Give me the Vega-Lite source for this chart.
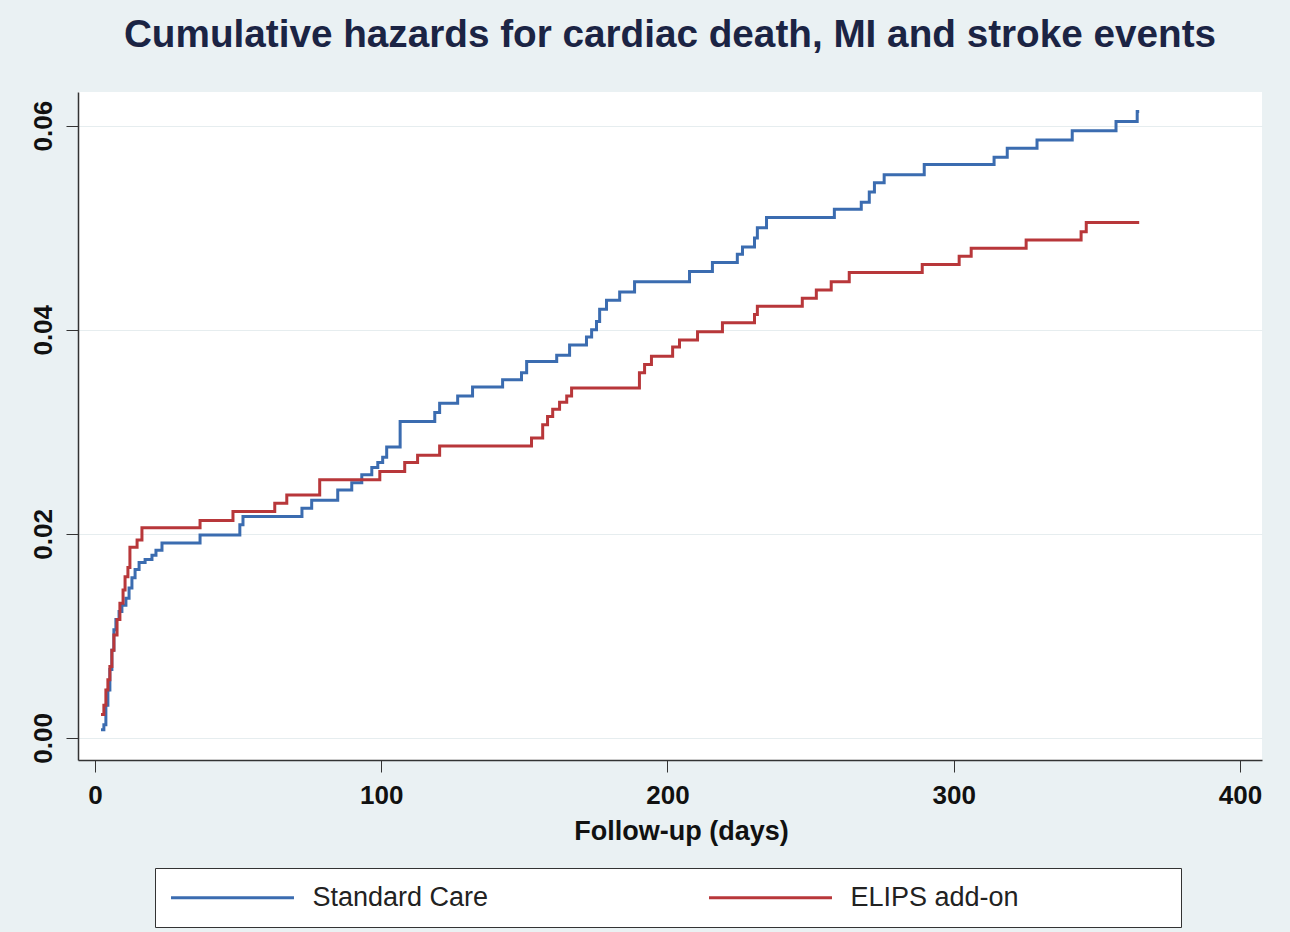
{
  "$schema": "https://vega.github.io/schema/vega-lite/v6.json",
  "autosize": {"type": "none"},
  "width": 1184,
  "height": 668,
  "padding": {"left": 78, "top": 92, "right": 28, "bottom": 172},
  "background": "#EAF1F3",
  "view": {"fill": "white", "stroke": null},
  "title": {
    "text": "Cumulative hazards for cardiac death, MI and stroke events",
    "anchor": "middle",
    "frame": "group",
    "font": "Liberation Sans",
    "fontSize": 38.7,
    "fontWeight": "bold",
    "color": "#1B2444",
    "baseline": "alphabetic",
    "offset": 6
  },
  "data": {
    "values": [
      {"group": "Standard Care", "day": 2.1, "h": 0.0008},
      {"group": "Standard Care", "day": 3.1, "h": 0.0013},
      {"group": "Standard Care", "day": 3.8, "h": 0.0032},
      {"group": "Standard Care", "day": 4.5, "h": 0.0047},
      {"group": "Standard Care", "day": 5.2, "h": 0.0067},
      {"group": "Standard Care", "day": 5.9, "h": 0.0086},
      {"group": "Standard Care", "day": 6.6, "h": 0.0106},
      {"group": "Standard Care", "day": 7.3, "h": 0.0116},
      {"group": "Standard Care", "day": 8.4, "h": 0.0124},
      {"group": "Standard Care", "day": 9.4, "h": 0.0130},
      {"group": "Standard Care", "day": 10.8, "h": 0.0137},
      {"group": "Standard Care", "day": 11.9, "h": 0.0147},
      {"group": "Standard Care", "day": 12.9, "h": 0.0157},
      {"group": "Standard Care", "day": 14.0, "h": 0.0165},
      {"group": "Standard Care", "day": 15.4, "h": 0.0172},
      {"group": "Standard Care", "day": 17.5, "h": 0.0175},
      {"group": "Standard Care", "day": 19.9, "h": 0.0179},
      {"group": "Standard Care", "day": 21.3, "h": 0.0184},
      {"group": "Standard Care", "day": 23.4, "h": 0.0191},
      {"group": "Standard Care", "day": 36.7, "h": 0.0199},
      {"group": "Standard Care", "day": 50.6, "h": 0.0209},
      {"group": "Standard Care", "day": 51.7, "h": 0.0217},
      {"group": "Standard Care", "day": 72.3, "h": 0.0225},
      {"group": "Standard Care", "day": 75.7, "h": 0.0233},
      {"group": "Standard Care", "day": 84.8, "h": 0.0243},
      {"group": "Standard Care", "day": 89.7, "h": 0.0250},
      {"group": "Standard Care", "day": 93.2, "h": 0.0258},
      {"group": "Standard Care", "day": 96.7, "h": 0.0265},
      {"group": "Standard Care", "day": 98.8, "h": 0.0270},
      {"group": "Standard Care", "day": 100.5, "h": 0.0275},
      {"group": "Standard Care", "day": 101.9, "h": 0.0285},
      {"group": "Standard Care", "day": 106.6, "h": 0.0310},
      {"group": "Standard Care", "day": 118.7, "h": 0.0319},
      {"group": "Standard Care", "day": 120.4, "h": 0.0328},
      {"group": "Standard Care", "day": 126.7, "h": 0.0335},
      {"group": "Standard Care", "day": 131.9, "h": 0.0344},
      {"group": "Standard Care", "day": 142.4, "h": 0.0351},
      {"group": "Standard Care", "day": 149.0, "h": 0.0358},
      {"group": "Standard Care", "day": 150.8, "h": 0.0369},
      {"group": "Standard Care", "day": 161.3, "h": 0.0375},
      {"group": "Standard Care", "day": 165.8, "h": 0.0385},
      {"group": "Standard Care", "day": 171.7, "h": 0.0393},
      {"group": "Standard Care", "day": 173.5, "h": 0.0400},
      {"group": "Standard Care", "day": 175.2, "h": 0.0408},
      {"group": "Standard Care", "day": 176.3, "h": 0.0420},
      {"group": "Standard Care", "day": 178.7, "h": 0.0429},
      {"group": "Standard Care", "day": 183.3, "h": 0.0437},
      {"group": "Standard Care", "day": 188.5, "h": 0.0447},
      {"group": "Standard Care", "day": 207.7, "h": 0.0457},
      {"group": "Standard Care", "day": 215.7, "h": 0.0466},
      {"group": "Standard Care", "day": 224.4, "h": 0.0474},
      {"group": "Standard Care", "day": 226.2, "h": 0.0481},
      {"group": "Standard Care", "day": 230.4, "h": 0.0490},
      {"group": "Standard Care", "day": 231.4, "h": 0.0500},
      {"group": "Standard Care", "day": 234.6, "h": 0.0510},
      {"group": "Standard Care", "day": 258.3, "h": 0.0518},
      {"group": "Standard Care", "day": 267.7, "h": 0.0525},
      {"group": "Standard Care", "day": 270.5, "h": 0.0535},
      {"group": "Standard Care", "day": 272.3, "h": 0.0544},
      {"group": "Standard Care", "day": 275.7, "h": 0.0552},
      {"group": "Standard Care", "day": 289.7, "h": 0.0562},
      {"group": "Standard Care", "day": 314.1, "h": 0.0569},
      {"group": "Standard Care", "day": 318.7, "h": 0.0578},
      {"group": "Standard Care", "day": 329.1, "h": 0.0586},
      {"group": "Standard Care", "day": 341.4, "h": 0.0595},
      {"group": "Standard Care", "day": 356.7, "h": 0.0604},
      {"group": "Standard Care", "day": 364.1, "h": 0.0614},
      {"group": "Standard Care", "day": 364.8, "h": 0.0614},
      {"group": "ELIPS add-on", "day": 2.1, "h": 0.0023},
      {"group": "ELIPS add-on", "day": 3.1, "h": 0.0032},
      {"group": "ELIPS add-on", "day": 3.8, "h": 0.0047},
      {"group": "ELIPS add-on", "day": 4.5, "h": 0.0057},
      {"group": "ELIPS add-on", "day": 5.2, "h": 0.0070},
      {"group": "ELIPS add-on", "day": 5.9, "h": 0.0086},
      {"group": "ELIPS add-on", "day": 6.6, "h": 0.0101},
      {"group": "ELIPS add-on", "day": 7.7, "h": 0.0116},
      {"group": "ELIPS add-on", "day": 8.7, "h": 0.0132},
      {"group": "ELIPS add-on", "day": 9.8, "h": 0.0145},
      {"group": "ELIPS add-on", "day": 10.5, "h": 0.0158},
      {"group": "ELIPS add-on", "day": 11.5, "h": 0.0167},
      {"group": "ELIPS add-on", "day": 12.2, "h": 0.0187},
      {"group": "ELIPS add-on", "day": 14.7, "h": 0.0194},
      {"group": "ELIPS add-on", "day": 16.4, "h": 0.0206},
      {"group": "ELIPS add-on", "day": 36.7, "h": 0.0213},
      {"group": "ELIPS add-on", "day": 48.2, "h": 0.0222},
      {"group": "ELIPS add-on", "day": 62.8, "h": 0.0230},
      {"group": "ELIPS add-on", "day": 67.0, "h": 0.0238},
      {"group": "ELIPS add-on", "day": 78.5, "h": 0.0253},
      {"group": "ELIPS add-on", "day": 99.5, "h": 0.0261},
      {"group": "ELIPS add-on", "day": 108.2, "h": 0.0270},
      {"group": "ELIPS add-on", "day": 112.7, "h": 0.0277},
      {"group": "ELIPS add-on", "day": 120.4, "h": 0.0286},
      {"group": "ELIPS add-on", "day": 152.5, "h": 0.0294},
      {"group": "ELIPS add-on", "day": 156.4, "h": 0.0307},
      {"group": "ELIPS add-on", "day": 158.1, "h": 0.0315},
      {"group": "ELIPS add-on", "day": 159.9, "h": 0.0322},
      {"group": "ELIPS add-on", "day": 162.3, "h": 0.0329},
      {"group": "ELIPS add-on", "day": 164.8, "h": 0.0335},
      {"group": "ELIPS add-on", "day": 166.5, "h": 0.0343},
      {"group": "ELIPS add-on", "day": 190.2, "h": 0.0358},
      {"group": "ELIPS add-on", "day": 192.0, "h": 0.0366},
      {"group": "ELIPS add-on", "day": 194.4, "h": 0.0374},
      {"group": "ELIPS add-on", "day": 201.8, "h": 0.0383},
      {"group": "ELIPS add-on", "day": 204.2, "h": 0.0390},
      {"group": "ELIPS add-on", "day": 210.5, "h": 0.0398},
      {"group": "ELIPS add-on", "day": 219.2, "h": 0.0407},
      {"group": "ELIPS add-on", "day": 230.4, "h": 0.0415},
      {"group": "ELIPS add-on", "day": 231.4, "h": 0.0423},
      {"group": "ELIPS add-on", "day": 247.1, "h": 0.0431},
      {"group": "ELIPS add-on", "day": 252.0, "h": 0.0439},
      {"group": "ELIPS add-on", "day": 257.2, "h": 0.0447},
      {"group": "ELIPS add-on", "day": 263.5, "h": 0.0456},
      {"group": "ELIPS add-on", "day": 289.0, "h": 0.0464},
      {"group": "ELIPS add-on", "day": 301.9, "h": 0.0472},
      {"group": "ELIPS add-on", "day": 306.1, "h": 0.0480},
      {"group": "ELIPS add-on", "day": 325.3, "h": 0.0488},
      {"group": "ELIPS add-on", "day": 344.5, "h": 0.0496},
      {"group": "ELIPS add-on", "day": 346.3, "h": 0.0505},
      {"group": "ELIPS add-on", "day": 364.8, "h": 0.0505}
    ]
  },
  "mark": {"type": "line", "interpolate": "step-after", "strokeWidth": 3},
  "encoding": {
    "x": {
      "field": "day",
      "type": "quantitative",
      "scale": {"domain": [-5.94, 407.7], "nice": false, "zero": false},
      "axis": {
        "title": "Follow-up (days)",
        "values": [0, 100, 200, 300, 400],
        "grid": false,
        "domainColor": "#333333",
        "domainWidth": 1.5,
        "tickColor": "#333333",
        "tickWidth": 1,
        "tickSize": 12,
        "labelFont": "Liberation Sans",
        "labelFontSize": 26,
        "labelFontWeight": "bold",
        "labelColor": "#111111",
        "labelPadding": 10,
        "labelFlush": false,
        "titleFont": "Liberation Sans",
        "titleFontSize": 27,
        "titleFontWeight": "bold",
        "titleColor": "#111111",
        "titlePadding": 10,
        "titleX": 603
      }
    },
    "y": {
      "field": "h",
      "type": "quantitative",
      "scale": {"domain": [-0.00216, 0.0633], "nice": false, "zero": false},
      "axis": {
        "title": null,
        "values": [0, 0.02, 0.04, 0.06],
        "format": ".2f",
        "grid": true,
        "gridColor": "#E6EDEF",
        "gridWidth": 1,
        "domainColor": "#333333",
        "domainWidth": 1.5,
        "tickColor": "#333333",
        "tickWidth": 1,
        "tickSize": 12,
        "labelAngle": -90,
        "labelAlign": "center",
        "labelBaseline": "bottom",
        "labelFont": "Liberation Sans",
        "labelFontSize": 26,
        "labelFontWeight": "bold",
        "labelColor": "#111111",
        "labelPadding": 10,
        "labelFlush": false
      }
    },
    "color": {
      "field": "group",
      "type": "nominal",
      "scale": {"domain": ["Standard Care", "ELIPS add-on"], "range": ["#3B6CB0", "#B8373A"]},
      "legend": {
        "title": null,
        "orient": "none",
        "legendX": 77,
        "legendY": 776,
        "direction": "horizontal",
        "columns": 2,
        "columnPadding": 76,
        "symbolType": "M-6,0H6M37.9,0",
        "symbolSize": 420,
        "symbolOffset": 48,
        "symbolStrokeWidth": 3,
        "labelOffset": 66.5,
        "labelFont": "Liberation Sans",
        "labelFontSize": 27,
        "labelColor": "#222222",
        "labelLimit": 800,
        "padding": 16,
        "strokeColor": "#333333",
        "fillColor": "white"
      }
    }
  }
}
